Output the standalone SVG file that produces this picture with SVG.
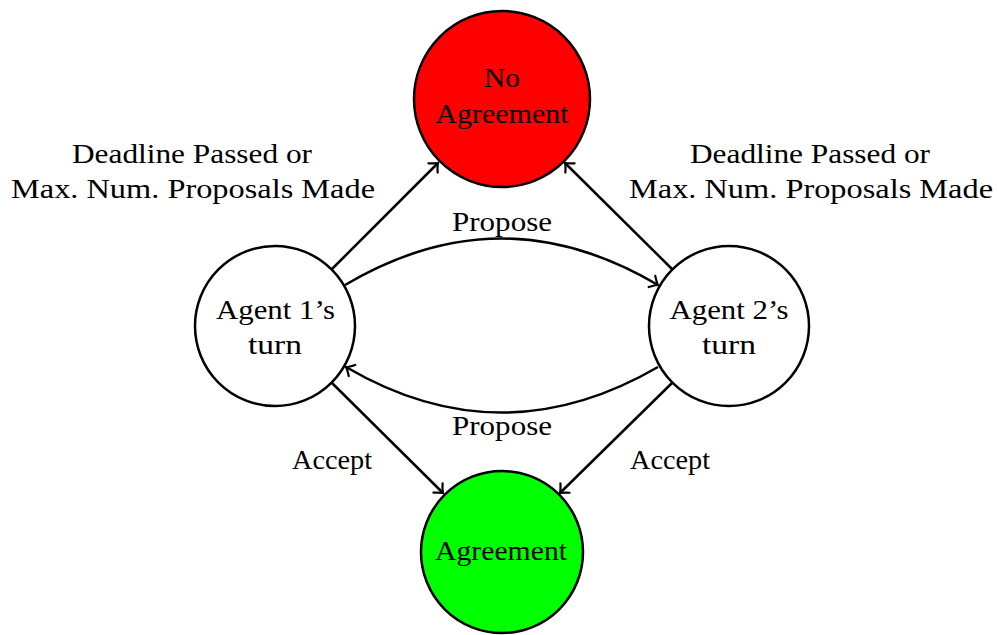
<svg xmlns="http://www.w3.org/2000/svg" width="999" height="635" viewBox="0 0 999 635">
<style>
text{font-family:"Liberation Serif","Times New Roman",serif;font-size:27px;fill:#000;text-anchor:middle}
.node{stroke:#000;stroke-width:2.5}
.edge{fill:none;stroke:#000;stroke-width:2.5}
</style>
<defs>
<marker id="arr" viewBox="-10 -8 12 16" refX="0" refY="0" markerWidth="12" markerHeight="16" markerUnits="userSpaceOnUse" orient="auto" overflow="visible">
<path d="M-7,-6.5 Q-2.5,-1.5 0,0 Q-2.5,1.5 -7,6.5" fill="none" stroke="#000" stroke-width="2.2" stroke-linecap="round"/>
</marker>
</defs>
<rect width="999" height="635" fill="#fff"/>
<g id="no-agreement">
<circle class="node" cx="502" cy="99" r="88" fill="#ff0000"/>
<text x="502" y="87" textLength="36" lengthAdjust="spacingAndGlyphs">No</text>
<text x="502" y="123" textLength="133" lengthAdjust="spacingAndGlyphs">Agreement</text>
</g>
<g id="agent1">
<circle class="node" cx="275" cy="326" r="80" fill="#fff"/>
<text x="275.5" y="319" textLength="119" lengthAdjust="spacingAndGlyphs">Agent 1’s</text>
<text x="275" y="354" textLength="54" lengthAdjust="spacingAndGlyphs">turn</text>
</g>
<g id="agent2">
<circle class="node" cx="729" cy="326" r="80" fill="#fff"/>
<text x="729" y="319" textLength="119" lengthAdjust="spacingAndGlyphs">Agent 2’s</text>
<text x="729" y="354" textLength="54" lengthAdjust="spacingAndGlyphs">turn</text>
</g>
<g id="agreement">
<circle class="node" cx="502" cy="552" r="81" fill="#00ff00"/>
<text x="501" y="560" textLength="132" lengthAdjust="spacingAndGlyphs">Agreement</text>
</g>
<g id="connectors">
<path class="edge" d="M332,269 L438,163" marker-end="url(#arr)"/>
<path class="edge" d="M672,269 L565,163" marker-end="url(#arr)"/>
<path class="edge" d="M332,383 L443,493" marker-end="url(#arr)"/>
<path class="edge" d="M672,383 L560,493" marker-end="url(#arr)"/>
<path class="edge" d="M345,285 C450,223 553,223 658,285" marker-end="url(#arr)"/>
<path class="edge" d="M658,367 C553,428 450,428 346,367" marker-end="url(#arr)"/>
<text x="502" y="231" textLength="100" lengthAdjust="spacingAndGlyphs">Propose</text>
<text x="502" y="435" textLength="100" lengthAdjust="spacingAndGlyphs">Propose</text>
<text x="192" y="163" textLength="240" lengthAdjust="spacingAndGlyphs">Deadline Passed or</text>
<text x="193" y="198" textLength="364" lengthAdjust="spacingAndGlyphs">Max. Num. Proposals Made</text>
<text x="810" y="163" textLength="240" lengthAdjust="spacingAndGlyphs">Deadline Passed or</text>
<text x="811" y="198" textLength="364" lengthAdjust="spacingAndGlyphs">Max. Num. Proposals Made</text>
<text x="332" y="469" textLength="80" lengthAdjust="spacingAndGlyphs">Accept</text>
<text x="670" y="469" textLength="80" lengthAdjust="spacingAndGlyphs">Accept</text>
</g>
</svg>
